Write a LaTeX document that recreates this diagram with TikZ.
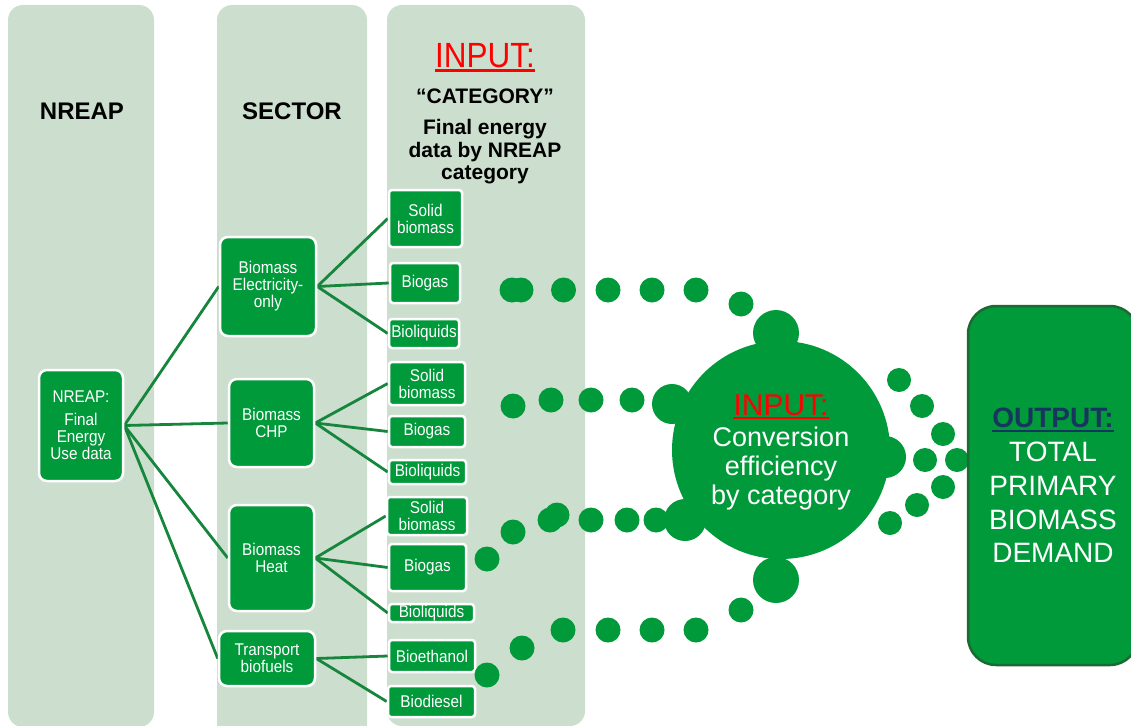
\documentclass[tikz,border=0pt]{standalone}
\usepackage{fontspec}
\setmainfont{Liberation Sans}
\newfontfamily\narrowsans{Liberation Sans}[FakeStretch=0.9]
\definecolor{lanebg}{HTML}{CCDECE}
\definecolor{leaf}{HTML}{009A3A}
\definecolor{stem}{HTML}{16863C}
\definecolor{rim}{HTML}{1C6A33}
\definecolor{navy}{HTML}{17365D}
\definecolor{alert}{HTML}{FF0000}
\newcommand\labelfont{\narrowsans\fontsize{17}{17}\selectfont}
\pgfdeclarelayer{lanes}
\pgfdeclarelayer{links}
\pgfsetlayers{lanes,links,main}
\tikzset{
  lane/.style={fill=lanebg, rounded corners=15pt},
  sectorbox/.style={fill=leaf, draw=white, line width=2.5pt, rounded corners=8pt,
    text=white, align=center, inner sep=0pt, font=\labelfont},
  catbox/.style={sectorbox, rounded corners=3pt},
  link/.style={draw=stem, line width=2.8pt},
  bead/.style={fill=leaf},
  heading/.style={font=\bfseries\fontsize{24}{24}\selectfont, inner sep=0pt},
  colnote/.style={font=\bfseries\fontsize{21}{22.5}\selectfont, align=center, inner sep=0pt},
}
\begin{document}
\begin{tikzpicture}[x=1pt,y=-1pt]
\useasboundingbox (0,0) rectangle (1131,725);
\clip (0,0) rectangle (1131,725);

% background lanes
\begin{pgfonlayer}{lanes}
  \fill[lane] (8,5) rectangle (154,727);
  \fill[lane] (217,5) rectangle (367,740);
  \fill[lane] (387,5) rectangle (585,726);
\end{pgfonlayer}

% lane headings
\node[heading] (hnreap) at (82,111) {NREAP};
\node[heading] (hsector) at (292,111) {SECTOR};
\node[font=\narrowsans\fontsize{35}{35}\selectfont, text=alert, inner sep=0pt, anchor=base] (hinput) at (485,67.5) {INPUT:};
\draw[alert, line width=2.6pt] ([yshift=-3pt]hinput.base west) -- ([yshift=-3pt]hinput.base east);
\node[font=\bfseries\fontsize{21}{21}\selectfont, inner sep=0pt] (hcat) at (485,96) {“CATEGORY”};
\node[colnote] (hnote) at (485,152) {Final energy\\data by NREAP\\category};

% source and sectors
\node[sectorbox, minimum width=84, minimum height=111] (nreap) at (81,425.5)
  {NREAP:\\[6pt]Final\\Energy\\Use data};
\node[sectorbox, minimum width=96, minimum height=99] (elec) at (268,286.5)
  {Biomass\\Electricity-\\only};
\node[sectorbox, minimum width=85, minimum height=88] (chp) at (271.5,423)
  {Biomass\\CHP};
\node[sectorbox, minimum width=85, minimum height=106] (heat) at (271.5,558)
  {Biomass\\Heat};
\node[sectorbox, minimum width=96, minimum height=55] (trans) at (267,658.5)
  {Transport\\biofuels};

% NREAP categories
\node[catbox, minimum width=73, minimum height=57] (solidA) at (425.5,218.5) {Solid\\biomass};
\node[catbox, minimum width=70, minimum height=40] (gasA) at (425,283) {Biogas};
\node[catbox, minimum width=70, minimum height=29] (liqA) at (424,333.5) {Bioliquids};
\node[catbox, minimum width=76, minimum height=43] (solidB) at (427,383.5) {Solid\\biomass};
\node[catbox, minimum width=76, minimum height=31] (gasB) at (427,431.5) {Biogas};
\node[catbox, minimum width=77, minimum height=24] (liqB) at (427.5,472) {Bioliquids};
\node[catbox, minimum width=80, minimum height=38] (solidC) at (427,516) {Solid\\biomass};
\node[catbox, minimum width=77, minimum height=47] (gasC) at (427.5,567.5) {Biogas};
\node[catbox, minimum width=85, minimum height=18] (liqC) at (431.5,613) {Bioliquids};
\node[catbox, minimum width=86, minimum height=32] (ethanol) at (432,656) {Bioethanol};
\node[catbox, minimum width=87, minimum height=31] (diesel) at (431.5,701.5) {Biodiesel};

% tree links
\begin{pgfonlayer}{links}
  \foreach \s in {elec,chp,heat,trans} \draw[link] (nreap.east) -- (\s.west);
  \foreach \c in {solidA,gasA,liqA} \draw[link] (elec.east) -- (\c.west);
  \foreach \c in {solidB,gasB,liqB} \draw[link] (chp.east) -- (\c.west);
  \foreach \c in {solidC,gasC,liqC} \draw[link] (heat.east) -- (\c.west);
  \foreach \c in {ethanol,diesel} \draw[link] (trans.east) -- (\c.west);
\end{pgfonlayer}

% dotted trails into the conversion hub
\foreach \p in {(512,290),(521,290),(563.5,290),(608,290),(652,290),(696,290),(741,304)}
  \fill[bead] \p circle (12.5);
\foreach \p in {(513,406),(551,400),(591,400),(632,400)}
  \fill[bead] \p circle (12.5);
\foreach \p in {(487,559),(513,532),(550,520),(557,515),(591,520),(627,520),(656,520)}
  \fill[bead] \p circle (12.5);
\foreach \p in {(487,675),(522,648),(563,630),(608,630),(652,630),(696,630),(741,610)}
  \fill[bead] \p circle (12.5);
% dotted trails out of the hub
\foreach \p in {(899,380),(922,406),(943,434),(925,460),(957,460),(943,487),(917,505),(890,523)}
  \fill[bead] \p circle (12);

% conversion hub with its bumps
\fill[leaf] (781,450) circle (109);
\fill[leaf] (776,333) circle (23);
\fill[leaf] (672,404) circle (20);
\fill[leaf] (885,457) circle (21);
\fill[leaf] (685,520) circle (21);
\fill[leaf] (776,580) circle (23);
\node[font=\fontsize{30}{30}\selectfont, text=alert, inner sep=0pt, anchor=base] (cinput) at (781,415) {INPUT:};
\draw[alert, line width=2pt] ([yshift=-2.5pt]cinput.base west) -- ([yshift=-2.5pt]cinput.base east);
\node[font=\fontsize{27}{29}\selectfont, text=white, align=center, inner sep=0pt] (ctext) at (781,469)
  {Conversion\\efficiency\\by category};

% output box
\node[fill=leaf, draw=rim, line width=2.5pt, rounded corners=28pt,
      minimum width=170, minimum height=359] (outbox) at (1053,485.5) {};
\node[font=\bfseries\fontsize{28}{28}\selectfont, text=navy, inner sep=0pt, anchor=base] (otitle) at (1053,427) {OUTPUT:};
\draw[navy, line width=2pt] ([yshift=-3.5pt]otitle.base west) -- ([yshift=-3.5pt]otitle.base east);
\node[font=\fontsize{28}{33.7}\selectfont, text=white, align=center, inner sep=0pt] (otext) at (1053,502.5)
  {TOTAL\\PRIMARY\\BIOMASS\\DEMAND};
\end{tikzpicture}
\end{document}
